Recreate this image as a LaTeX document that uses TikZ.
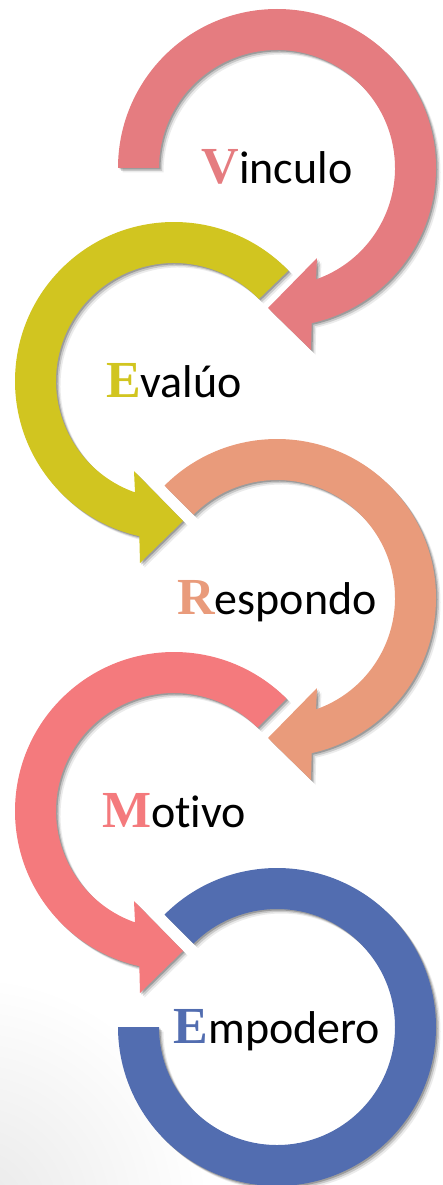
\documentclass[tikz,border=0pt]{standalone}
\usepackage{fontspec}
\setmainfont{Carlito}[Ligatures=NoCommon]
\newfontfamily\capfont{Liberation Serif}
\usetikzlibrary{shadows}

\definecolor{pinkV}{RGB}{229,124,128}
\definecolor{oliveE}{RGB}{209,197,32}
\definecolor{salmonR}{RGB}{233,155,123}
\definecolor{coralM}{RGB}{244,122,125}
\definecolor{blueE}{RGB}{82,109,176}

\newcommand{\firstletter}[2]{{\capfont\bfseries\fontsize{52}{56}\selectfont\color{#1}#2}}

\tikzset{
	ring/.style={drop shadow={shadow xshift=1.5pt,shadow yshift=-1.5pt,opacity=.22,fill=black},
		drop shadow={shadow xshift=3pt,shadow yshift=-3pt,opacity=.15,fill=black},
		drop shadow={shadow xshift=4.5pt,shadow yshift=-4.5pt,opacity=.08,fill=black}},
	word/.style={font=\fontsize{46}{50}\selectfont, anchor=base, inner sep=0pt}
}

\begin{document}
\begin{tikzpicture}[x=1pt,y=1pt]
	%\draw[very thin,color=gray] (0,0) grid[step=50] (443,-1185);
	\useasboundingbox (0,0) rectangle (443,-1185);
	\begin{scope}
		\clip (0,0) rectangle (443,-1185);
		\shade[inner color=black!9, outer color=white] (-30,-1215) circle (240);
	\end{scope}
	% Vinculo
	\begin{scope}[shift={(277,-168)}]
		\fill[ring, pinkV] (180:159) arc[start angle=180, end angle=-77.4, radius=159] -- (34,-182) -- (-9,-140) -- (40,-90) -- (-70.7:118) arc[start angle=-70.7, end angle=180, radius=118] -- cycle;
		\node[word] (vinculo) at (0,-16) {\firstletter{pinkV}{V}inculo};
	\end{scope}
	% Evaluo
	\begin{scope}[shift={(174,-381)}]
		\fill[ring, oliveE] (44:159) arc[start angle=44, end angle=257.4, radius=159] -- (-34,-182) -- (9,-140) -- (-40,-90) -- (250.7:118) arc[start angle=250.7, end angle=44, radius=118] -- cycle;
		\node[word] (evaluo) at (0,-16) {\firstletter{oliveE}{E}valúo};
	\end{scope}
	% Respondo
	\begin{scope}[shift={(277,-598)}]
		\fill[ring, salmonR] (135:159) arc[start angle=135, end angle=-77.4, radius=159] -- (34,-182) -- (-9,-140) -- (40,-90) -- (-70.7:118) arc[start angle=-70.7, end angle=135, radius=118] -- cycle;
		\node[word] (respondo) at (0,-16) {\firstletter{salmonR}{R}espondo};
	\end{scope}
	% Motivo
	\begin{scope}[shift={(174,-811)}]
		\fill[ring, coralM] (45:159) arc[start angle=45, end angle=257.4, radius=159] -- (-34,-182) -- (9,-140) -- (-40,-90) -- (250.7:118) arc[start angle=250.7, end angle=45, radius=118] -- cycle;
		\node[word] (motivo) at (0,-16) {\firstletter{coralM}{M}otivo};
	\end{scope}
	% Empodero
	\begin{scope}[shift={(277,-1027)}]
		\fill[ring, blueE] (135:159) arc[start angle=135, end angle=-180, radius=159] -- (-180:118) arc[start angle=-180, end angle=135, radius=118] -- cycle;
		\node[word] (empodero) at (0,-16) {\firstletter{blueE}{E}mpodero};
	\end{scope}
\end{tikzpicture}
\end{document}
